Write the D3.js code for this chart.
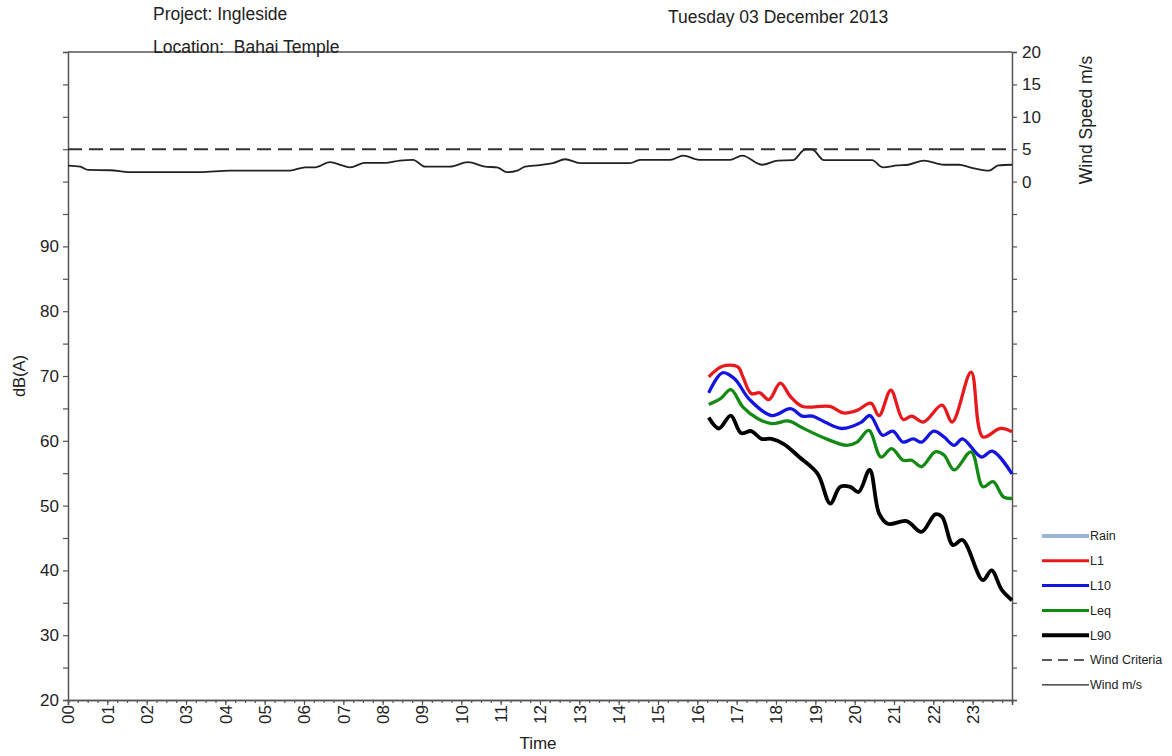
<!DOCTYPE html>
<html>
<head>
<meta charset="utf-8">
<script src="https://cdn.jsdelivr.net/npm/d3@7/dist/d3.min.js"></script>
<style>
  body { margin: 0; background: #fff; }
  svg { font-family: "Liberation Sans", Arial, sans-serif; }
</style>
</head>
<body>
<svg id="chart" width="1172" height="756"></svg>
<script>
// hours since midnight
const windHours = [0, 0.31, 0.51, 1.07, 1.58, 3.36, 4.12, 5.64, 6.03, 6.28, 6.66, 6.99, 7.17, 7.55, 8.06, 8.44, 8.77, 9.08, 9.71, 10.17, 10.6, 10.91, 11.16, 11.42, 11.62, 12.0, 12.33, 12.64, 13.02, 14.29, 14.54, 15.31, 15.64, 16.07, 16.83, 17.14, 17.65, 18.05, 18.43, 18.74, 18.92, 19.22, 20.44, 20.72, 21.08, 21.36, 21.76, 22.27, 22.65, 22.93, 23.42, 23.65, 24.0];
const windSpeed = [2.47, 2.3, 1.8, 1.75, 1.45, 1.45, 1.7, 1.7, 2.2, 2.2, 3.0, 2.45, 2.2, 2.9, 2.9, 3.25, 3.35, 2.3, 2.3, 3.0, 2.3, 2.2, 1.45, 1.7, 2.3, 2.55, 2.85, 3.45, 2.85, 2.85, 3.35, 3.35, 4.0, 3.35, 3.35, 4.0, 2.6, 3.25, 3.3, 4.95, 4.95, 3.3, 3.3, 2.2, 2.5, 2.6, 3.25, 2.6, 2.6, 2.2, 1.7, 2.5, 2.6];
const windCriteria = 5;

const l1Hours = [16.29, 16.64, 17.03, 17.16, 17.37, 17.59, 17.82, 18.11, 18.37, 18.67, 19.37, 19.71, 20.06, 20.41, 20.62, 20.92, 21.23, 21.45, 21.75, 22.22, 22.48, 22.96, 23.26, 23.7, 24.0];
const l1 = [69.85, 71.5, 71.4, 69.85, 67.3, 67.4, 66.35, 68.9, 66.8, 65.3, 65.3, 64.3, 64.7, 65.8, 63.9, 67.8, 63.3, 63.8, 62.9, 65.5, 62.9, 70.6, 60.6, 61.9, 61.4];

const l10Hours = [16.29, 16.64, 16.94, 17.33, 17.89, 18.37, 18.67, 18.93, 19.24, 19.67, 20.15, 20.39, 20.71, 20.97, 21.23, 21.49, 21.7, 22.01, 22.27, 22.53, 22.74, 23.22, 23.5, 24.0];
const l10 = [67.4, 70.5, 69.6, 66.35, 63.9, 64.95, 63.8, 63.8, 62.9, 61.9, 62.8, 63.9, 60.85, 61.5, 59.8, 60.3, 59.8, 61.5, 60.6, 59.3, 60.3, 57.5, 58.4, 54.9];

const leqHours = [16.29, 16.59, 16.85, 17.16, 17.54, 17.89, 18.33, 18.67, 19.28, 19.8, 20.06, 20.36, 20.67, 20.94, 21.23, 21.45, 21.7, 22.05, 22.27, 22.53, 22.96, 23.26, 23.52, 23.78, 24.0];
const leq = [65.6, 66.5, 67.9, 65.2, 63.4, 62.65, 63.05, 62.0, 60.3, 59.3, 59.8, 61.6, 57.5, 58.8, 57.0, 57.0, 56.0, 58.3, 57.8, 55.5, 58.3, 52.9, 53.7, 51.35, 51.1];

const l90Hours = [16.29, 16.55, 16.85, 17.11, 17.37, 17.63, 17.89, 18.2, 18.59, 19.06, 19.38, 19.63, 19.89, 20.1, 20.38, 20.62, 20.84, 21.32, 21.7, 22.05, 22.22, 22.5, 22.74, 23.26, 23.48, 23.74, 24.0];
const l90 = [63.6, 61.9, 63.9, 61.2, 61.5, 60.3, 60.3, 59.5, 57.5, 54.9, 50.3, 52.9, 52.9, 52.1, 55.5, 48.8, 47.2, 47.6, 45.95, 48.65, 48.3, 43.9, 44.7, 38.5, 40.0, 37.0, 35.4];

const hourLabels = d3.range(24).map(h => String(h).padStart(2, "0"));
const legendNames = ["Rain", "L1", "L10", "Leq", "L90", "Wind Criteria", "Wind m/s"];

const svg = d3.select("#chart");
const plotLeft = 68, plotRight = 1012, plotTop = 52, plotBottom = 700;
const axisColor = "#555";

const x = d3.scaleLinear().domain([0, 24]).range([plotLeft, plotRight]);
const yDb = d3.scaleLinear().domain([20, 120]).range([plotBottom, plotTop]);
const yWind = d3.scaleLinear().domain([-80, 20]).range([plotBottom, plotTop]);

// top frame line
svg.append("line")
  .attr("x1", plotLeft).attr("x2", plotRight).attr("y1", plotTop).attr("y2", plotTop)
  .attr("stroke", axisColor).attr("stroke-width", 1.5);

// left axis
const gLeft = svg.append("g")
  .attr("transform", `translate(${plotLeft},0)`)
  .call(d3.axisLeft(yDb).tickValues(d3.range(20, 121, 5)).tickSize(5).tickPadding(4)
    .tickFormat(d => (d % 10 === 0 && d <= 90) ? d : ""));

// right axis
const gRight = svg.append("g")
  .attr("transform", `translate(${plotRight},0)`)
  .call(d3.axisRight(yWind).tickValues(d3.range(-80, 21, 5)).tickSize(5).tickPadding(5)
    .tickFormat(d => d >= 0 ? d : ""));

// bottom axis: minor ticks every 15 min, labels on the hour
svg.append("g")
  .attr("transform", `translate(0,${plotBottom})`)
  .call(d3.axisBottom(x).tickValues(d3.range(0, 24.01, 0.25)).tickSize(3).tickFormat(""));
const gBottom = svg.append("g")
  .attr("transform", `translate(0,${plotBottom})`)
  .call(d3.axisBottom(x).tickValues(d3.range(0, 24)).tickSize(5)
    .tickFormat(d => hourLabels[d]));
gBottom.selectAll(".tick text")
  .attr("transform", "rotate(-90)")
  .attr("text-anchor", "end")
  .attr("x", -5).attr("y", 0).attr("dy", "0.35em");

[gLeft, gRight, gBottom].forEach(g => {
  g.selectAll("text").attr("fill", "#222").style("font-size", "17px")
    .style("font-family", "'Liberation Sans', Arial, sans-serif");
});
svg.selectAll(".domain").attr("stroke", axisColor).attr("stroke-width", 1.5);
svg.selectAll(".tick line").attr("stroke", axisColor).attr("stroke-width", 1.2);

// wind criteria
svg.append("line")
  .attr("x1", x(0)).attr("x2", x(24))
  .attr("y1", yWind(windCriteria)).attr("y2", yWind(windCriteria))
  .attr("stroke", "#333").attr("stroke-width", 2).attr("stroke-dasharray", "14,7");

// wind speed
const windLine = d3.line().x((d, i) => x(windHours[i])).y(d => yWind(d)).curve(d3.curveMonotoneX);
svg.append("path").datum(windSpeed)
  .attr("d", windLine).attr("fill", "none").attr("stroke", "#222").attr("stroke-width", 1.8);

// noise series
const series = [
  { hours: l1Hours, values: l1, color: "#e8191c", width: 3.3 },
  { hours: l10Hours, values: l10, color: "#1414e0", width: 3.3 },
  { hours: leqHours, values: leq, color: "#138a13", width: 3.3 },
  { hours: l90Hours, values: l90, color: "#000", width: 3.8 }
];
series.forEach(s => {
  const line = d3.line().x((d, i) => x(s.hours[i])).y(d => yDb(d)).curve(d3.curveCatmullRom.alpha(0.5));
  svg.append("path").datum(s.values)
    .attr("d", line).attr("fill", "none")
    .attr("stroke", s.color).attr("stroke-width", s.width)
    .attr("stroke-linejoin", "round");
});

// legend
const legendStyles = [
  { color: "#9ab4d6", width: 4, dash: null },
  { color: "#e8191c", width: 3, dash: null },
  { color: "#1414e0", width: 3, dash: null },
  { color: "#138a13", width: 3, dash: null },
  { color: "#000", width: 4, dash: null },
  { color: "#222", width: 1.3, dash: "10,6" },
  { color: "#222", width: 1.3, dash: null }
];
const legend = svg.append("g");
legendNames.forEach((name, i) => {
  const yy = 536 + i * 24.8;
  const st = legendStyles[i];
  legend.append("line")
    .attr("x1", 1042).attr("x2", 1089).attr("y1", yy).attr("y2", yy)
    .attr("stroke", st.color).attr("stroke-width", st.width)
    .attr("stroke-dasharray", st.dash);
  legend.append("text")
    .attr("x", 1090).attr("y", yy).attr("dy", "0.35em")
    .style("font-size", "12.5px").attr("fill", "#222").text(name);
});

// titles
svg.append("text").attr("x", 153).attr("y", 20).style("font-size", "17.5px").attr("fill", "#222").text("Project: Ingleside");
svg.append("text").attr("x", 153).attr("y", 53).style("font-size", "17.5px").attr("fill", "#222")
  .attr("xml:space", "preserve").text("Location:  Bahai Temple");
svg.append("text").attr("x", 668).attr("y", 23).style("font-size", "17.5px").attr("fill", "#222").text("Tuesday 03 December 2013");

svg.append("text").attr("x", 538).attr("y", 749).attr("text-anchor", "middle")
  .style("font-size", "17px").attr("fill", "#222").text("Time");
svg.append("text").attr("transform", "translate(25,376) rotate(-90)").attr("text-anchor", "middle")
  .style("font-size", "16.5px").attr("fill", "#222").text("dB(A)");
svg.append("text").attr("transform", "translate(1092,120) rotate(-90)").attr("text-anchor", "middle")
  .style("font-size", "17.5px").attr("fill", "#222").text("Wind Speed m/s");
</script>
</body>
</html>
